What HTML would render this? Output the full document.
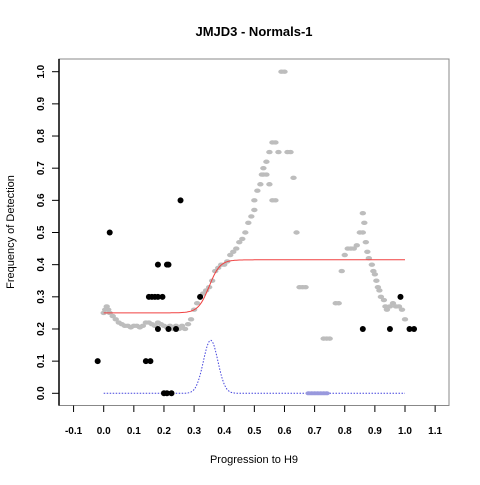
<!DOCTYPE html>
<html><head><meta charset="utf-8"><style>
body{margin:0;background:#fff;}
svg text{font-family:"Liberation Sans",sans-serif;}
</style></head><body>
<svg id="chart" width="480" height="480" xmlns="http://www.w3.org/2000/svg">
<text x="254" y="36" text-anchor="middle" font-size="13" font-weight="bold">JMJD3 - Normals-1</text>
<rect x="59" y="59" width="390" height="346.5" fill="none" stroke="#888" stroke-width="1"/>
<line x1="59" y1="59" x2="59" y2="405.5" stroke="#000" stroke-width="1.5"/>
<text x="254" y="463" text-anchor="middle" font-size="11">Progression to H9</text>
<text transform="translate(14,232) rotate(-90)" text-anchor="middle" font-size="11">Frequency of Detection</text>
<g id="ticks"></g><g id="marks"></g>
</svg>
<script>
const xTicks=[-0.1,0,0.1,0.2,0.3,0.4,0.5,0.6,0.7,0.8,0.9,1.0,1.1];
const yTicks=[0,0.1,0.2,0.3,0.4,0.5,0.6,0.7,0.8,0.9,1.0];
const grayX=[0,0.005,0.01,0.015,0.02,0.03,0.04,0.05,0.06,0.07,0.08,0.09,0.10,0.11,0.12,0.13,0.14,0.15,0.16,0.17,0.18,0.19,0.20,0.21,0.22,0.23,0.24,0.25,0.26,0.27,0.28,0.29,0.30,0.31,0.32,0.33,0.34,0.35,0.36,0.37,0.38,0.39,0.40,0.41,0.42,0.43,0.44,0.45,0.46,0.47,0.48,0.49,0.50,0.50,0.51,0.52,0.525,0.53,0.54,0.55,0.56,0.57,0.58,0.59,0.60,0.61,0.62,0.63,0.64,0.65,0.66,0.67,0.53,0.54,0.55,0.56,0.57,0.73,0.74,0.75,0.77,0.78,0.79,0.80,0.81,0.82,0.83,0.84,0.85,0.86,0.865,0.86,0.87,0.875,0.88,0.89,0.895,0.90,0.905,0.91,0.915,0.92,0.93,0.935,0.94,0.95,0.96,0.97,0.98,0.99,1.0];
const grayY=[0.25,0.26,0.27,0.26,0.25,0.24,0.23,0.22,0.215,0.21,0.21,0.205,0.21,0.21,0.205,0.21,0.22,0.22,0.215,0.21,0.22,0.215,0.21,0.205,0.21,0.2,0.21,0.2,0.21,0.2,0.215,0.23,0.26,0.28,0.30,0.31,0.32,0.33,0.35,0.38,0.39,0.40,0.40,0.41,0.43,0.44,0.45,0.47,0.48,0.50,0.53,0.55,0.57,0.60,0.63,0.65,0.68,0.70,0.72,0.75,0.78,0.78,0.75,1.0,1.0,0.75,0.75,0.67,0.5,0.33,0.33,0.33,0.68,0.68,0.65,0.60,0.60,0.17,0.17,0.17,0.28,0.28,0.38,0.43,0.45,0.45,0.45,0.46,0.50,0.50,0.53,0.56,0.47,0.44,0.42,0.40,0.38,0.37,0.35,0.33,0.32,0.30,0.29,0.27,0.26,0.27,0.28,0.27,0.27,0.26,0.23];
const blackX=[-0.02,0.02,0.14,0.155,0.15,0.16,0.17,0.18,0.195,0.18,0.21,0.215,0.18,0.215,0.24,0.255,0.2,0.21,0.225,0.32,0.86,0.95,0.985,1.015,1.03];
const blackY=[0.1,0.5,0.1,0.1,0.3,0.3,0.3,0.3,0.3,0.4,0.4,0.4,0.2,0.2,0.2,0.6,0,0,0,0.3,0.2,0.2,0.3,0.2,0.2];
const blueX=[0.68,0.69,0.70,0.71,0.72,0.73,0.74];
const blueY=[0,0,0,0,0,0,0];
const fitLow=[0.25],fitHigh=[0.415],fitCenter=[0.35],fitScale=[0.018];
const densPeak=[0.165],densMean=[0.355],densSd=[0.024];
const xs=v=>103.7+301.3*v, ys=v=>393.3-321.6*v;
const NS="http://www.w3.org/2000/svg";
const T=document.getElementById('ticks'),M=document.getElementById('marks');
function mk(p,tag,at){const e=document.createElementNS(NS,tag);for(const k in at)e.setAttribute(k,at[k]);p.appendChild(e);return e;}
xTicks.forEach(t=>{
 const l=mk(T,'line',{x1:xs(t),x2:xs(t),y1:405.5,y2:412,stroke:'#000'});
 
 
 const tx=mk(T,'text',{x:xs(t),y:434,'text-anchor':'middle','font-size':'10','font-weight':'bold'});
 tx.textContent=t.toFixed(1);
 
 
});
yTicks.forEach(t=>{
 const l=mk(T,'line',{x1:52,x2:59,y1:ys(t),y2:ys(t),stroke:'#000'});
 
 
 const tx=mk(T,'text',{x:0,y:0,'text-anchor':'middle','font-size':'10','font-weight':'bold',transform:`translate(44,${ys(t)}) rotate(-90)`});
 tx.textContent=t.toFixed(1);
 
 
});
grayX.forEach((x,i)=>{
 const e=mk(M,'ellipse',{cx:xs(x),cy:ys(grayY[i]),rx:3.2,ry:2.2,fill:'#bdbdbd'});
 
 
});
let d='';for(let i=0;i<=200;i++){const v=i/200;const y=fitLow[0]+(fitHigh[0]-fitLow[0])/(1+Math.exp(-(v-fitCenter[0])/fitScale[0]));d+=(i?'L':'M')+xs(v).toFixed(1)+','+ys(y).toFixed(1);}
const fl=mk(M,'path',{d:d,fill:'none',stroke:'#f04040','stroke-width':1});


let d2='';for(let i=0;i<=300;i++){const v=i/300;const y=densPeak[0]*Math.exp(-Math.pow(v-densMean[0],2)/(2*densSd[0]*densSd[0]));d2+=(i?'L':'M')+xs(v).toFixed(1)+','+ys(y).toFixed(1);}
const dl=mk(M,'path',{d:d2,fill:'none',stroke:'#4444dd','stroke-width':1,'stroke-dasharray':'1.5,1.5'});


blueX.forEach((x,i)=>{
 const e=mk(M,'ellipse',{cx:xs(x),cy:ys(blueY[i]),rx:3.2,ry:2,fill:'#9999dd'});
 
 
});
blackX.forEach((x,i)=>{
 const e=mk(M,'circle',{cx:xs(x),cy:ys(blackY[i]),r:3,fill:'#000'});
 
 
});
</script>
</body></html>
